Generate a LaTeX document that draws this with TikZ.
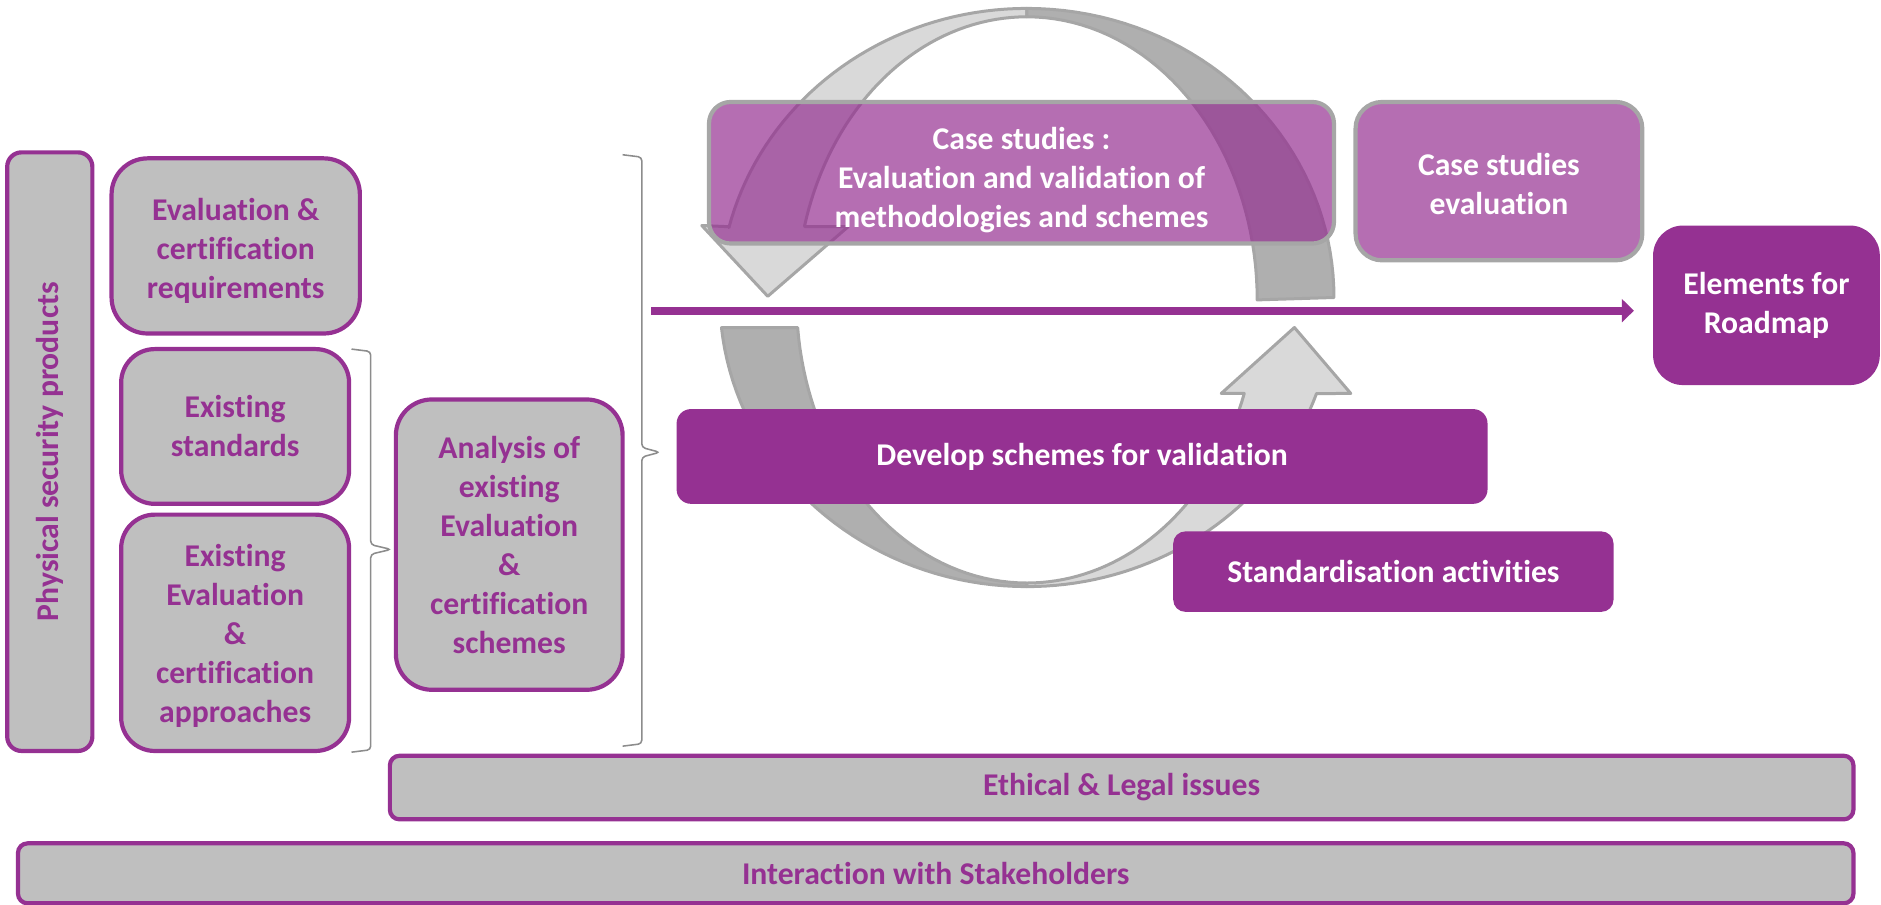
\documentclass[tikz,border=0pt]{standalone}
\usepackage{fontspec}
\setmainfont{Carlito}[Ligatures={NoCommon,NoContextual}]
\usetikzlibrary{arrows.meta}
\definecolor{pp}{HTML}{953192}
\definecolor{boxgray}{HTML}{BFBFBF}
\definecolor{bandlight}{HTML}{D9D9D9}
\definecolor{banddark}{HTML}{AFAFAF}
\definecolor{bandline}{HTML}{A6A6A6}
\definecolor{bracegray}{HTML}{8C8C8C}
\newcommand\mystrut[1]{\rule{0pt}{#1}}
\begin{document}
\begin{tikzpicture}[x=1pt,y=-1pt,
  every node/.style={inner sep=0pt, outer sep=0pt, align=center, font=\fontsize{26.4}{32.5}\selectfont\bfseries},
  graybox/.style={draw=pp, line width=3.5pt, fill=boxgray, text=pp},
  solidbox/.style={fill=pp, text=white},
  casebox/.style={draw=bandline, line width=3.5pt, fill=pp, fill opacity=0.7, text opacity=1, text=white},
  band/.style={draw=bandline, line width=2.5pt, line join=round},
  bracket/.style={draw=bracegray, line width=1.3pt, rounded corners=3pt},
]
\useasboundingbox (0,0) rectangle (1568,754);

% circular arrow: upper light part with arrowhead
\filldraw[band, fill=bandlight] (671,189) -- (707,189) -- (640,247) -- (585,188) -- (608,189)
  -- plot[domain=194:270, variable=\t, samples=40] ({856+256*cos(\t)},{248+241*sin(\t)})
  -- plot[domain=270:195.2, variable=\t, samples=40] ({856+192*cos(\t)},{250+236*sin(\t)}) -- cycle;
% upper dark part
\filldraw[band, fill=banddark]
  plot[domain=270:360, variable=\t, samples=40] ({856+256*cos(\t)},{248+241*sin(\t)})
  -- plot[domain=360:270, variable=\t, samples=40] ({856+192*cos(\t)},{250+236*sin(\t)}) -- cycle;
% lower dark part
\filldraw[band, fill=banddark]
  plot[domain=174:90, variable=\t, samples=40] ({856+256*cos(\t)},{248+241*sin(\t)})
  -- plot[domain=90:174.4, variable=\t, samples=40] ({856+192*cos(\t)},{250+236*sin(\t)}) -- cycle;
% lower light part with arrowhead
\filldraw[band, fill=bandlight]
  plot[domain=90:19.4, variable=\t, samples=40] ({856+256*cos(\t)},{248+241*sin(\t)})
  -- (1126,328) -- (1079,273) -- (1018,328) -- (1037,328)
  -- plot[domain=19.3:90, variable=\t, samples=40] ({856+192*cos(\t)},{250+236*sin(\t)}) -- cycle;

% left column
\node[graybox, rounded corners=12pt, rotate=90, minimum width=499pt, minimum height=71pt] (psp) at (41.5,376.5) {Physical security products};
\node[graybox, rounded corners=30pt, minimum width=207pt, minimum height=146pt] (req) at (196.5,205) {\mystrut{27.5pt}Evaluation \&\\certification\\requirements};
\node[graybox, rounded corners=28pt, minimum width=190pt, minimum height=129pt] (std) at (196,355.5) {Existing\\standards};
\node[graybox, rounded corners=28pt, minimum width=190pt, minimum height=197pt] (app) at (196,527.5) {\mystrut{23pt}Existing\\Evaluation\\\&\\certification\\approaches};
\node[graybox, rounded corners=30pt, minimum width=189pt, minimum height=242pt] (ana) at (424.5,454) {Analysis of\\existing\\Evaluation\\\&\\certification\\schemes};

% braces
\draw[bracket] (293,291) -- (309,293) -- (309,454) -- (326,458) -- (309,462) -- (309,625) -- (293,627);
\draw[bracket] (519,129) -- (535,131) -- (535,373) -- (550,377) -- (535,381) -- (535,620) -- (519,622);

% right part
\node[casebox, rounded corners=18pt, minimum width=521pt, minimum height=118pt] (case1) at (851.5,144) {\mystrut{30pt}Case studies :\\Evaluation and validation of\\methodologies and schemes};
\node[casebox, rounded corners=22pt, minimum width=239pt, minimum height=132pt] (case2) at (1249.5,151) {\mystrut{24pt}Case studies\\evaluation};
\node[solidbox, rounded corners=25pt, minimum width=189pt, minimum height=133pt] (elem) at (1472.5,254.5) {Elements for\\Roadmap};
\node[solidbox, rounded corners=12pt, minimum width=676pt, minimum height=79pt] (dev) at (902,380.5) {Develop schemes for validation};
\node[solidbox, rounded corners=10pt, minimum width=367pt, minimum height=67pt] (stdact) at (1161.5,476.5) {Standardisation activities};

% main arrow
\coordinate (ls) at (543,259);
\coordinate (le) at (1362,259);
\draw[pp, line width=7pt, -{Triangle[length=10pt,width=19pt]}] (ls) -- (le);

% bottom bars
\node[graybox, rounded corners=8pt, minimum width=1220pt, minimum height=53pt] (eth) at (935,656.5) {Ethical \& Legal issues};
\node[graybox, rounded corners=8pt, minimum width=1530pt, minimum height=50pt] (inter) at (780,728) {Interaction with Stakeholders};
\end{tikzpicture}
\end{document}
